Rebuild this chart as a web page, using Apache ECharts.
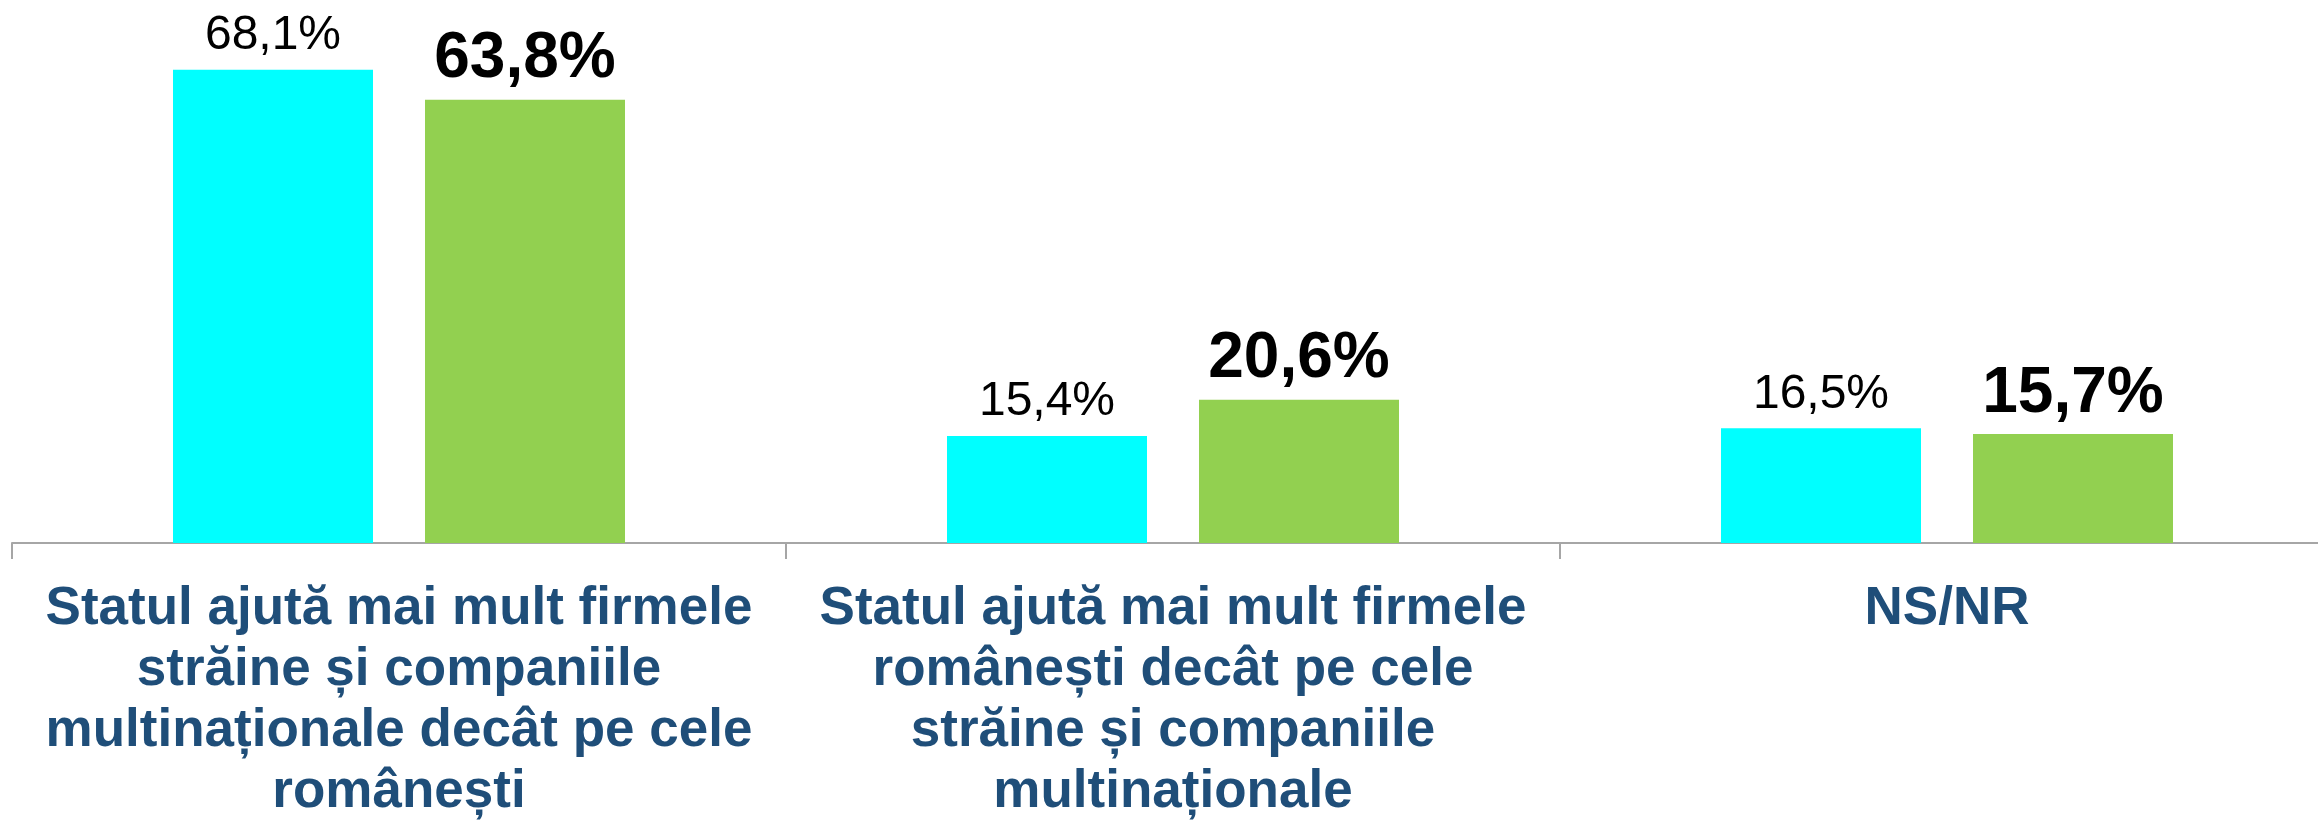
<!DOCTYPE html>
<html>
<head>
<meta charset="utf-8">
<title>Statul ajută</title>
<script src="https://cdn.jsdelivr.net/npm/echarts@6/dist/echarts.min.js"></script>
<style>
  html, body { margin: 0; padding: 0; background: #fff; }
  #chart { width: 2318px; height: 821px; }
</style>
</head>
<body>
<div id="chart"></div>
<script>
// categories (line breaks as in the original slide)
var categories = [
    'Statul ajută mai mult firmele\nstrăine și companiile\nmultinaționale decât pe cele\nromânești',
    'Statul ajută mai mult firmele\nromânești decât pe cele\nstrăine și companiile\nmultinaționale',
    'NS/NR'
];
// two survey waves
var seriesNames = ['Val 1', 'Val 2'];
var wave1 = [68.1, 15.4, 16.5];
var wave2 = [63.8, 20.6, 15.7];

var FONT = '"Liberation Sans", Arial, sans-serif';

function pct(p) {
    return p.value.toFixed(1).replace('.', ',') + '%';
}

var chart = echarts.init(document.getElementById('chart'));

chart.setOption({
    animation: false,
    backgroundColor: '#ffffff',
    grid: {
        left: 12,
        right: -16,
        top: 1,
        bottom: 278,
        containLabel: false,
        outerBoundsMode: 'none'
    },
    xAxis: {
        type: 'category',
        data: categories,
        axisLine: { show: true, lineStyle: { color: '#a6a6a6', width: 2 } },
        axisTick: { show: true, length: 16, lineStyle: { color: '#a6a6a6', width: 2 } },
        axisLabel: {
            interval: 0,
            margin: 36,
            color: '#1f4e79',
            fontFamily: FONT,
            fontWeight: 'bold',
            fontSize: 53,
            lineHeight: 61,
            align: 'center'
        },
        splitLine: { show: false }
    },
    yAxis: {
        type: 'value',
        min: 0,
        max: 78,
        show: false,
        splitLine: { show: false }
    },
    series: [
        {
            name: seriesNames[0],
            type: 'bar',
            data: wave1,
            barWidth: 200,
            barGap: '26%',
            itemStyle: { color: '#00ffff' },
            label: {
                show: true,
                position: 'top',
                distance: 10,
                formatter: pct,
                color: '#000000',
                fontFamily: FONT,
                fontSize: 48
            }
        },
        {
            name: seriesNames[1],
            type: 'bar',
            data: wave2,
            barWidth: 200,
            barGap: '26%',
            itemStyle: { color: '#92d050' },
            label: {
                show: true,
                position: 'top',
                distance: 8,
                formatter: pct,
                color: '#000000',
                fontFamily: FONT,
                fontWeight: 'bold',
                fontSize: 64
            }
        }
    ]
});
</script>
</body>
</html>
